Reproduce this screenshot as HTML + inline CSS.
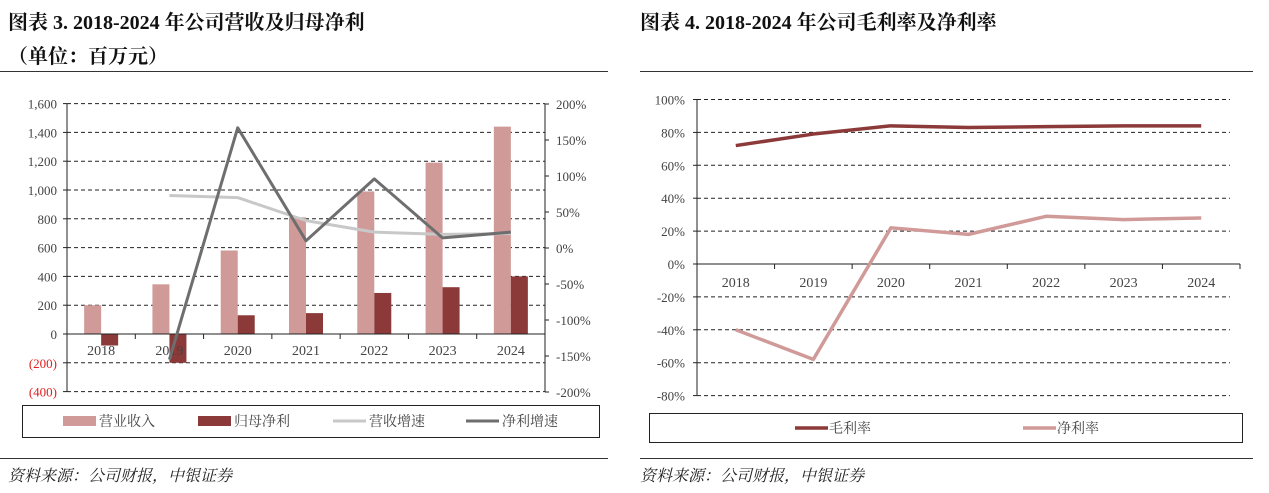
<!DOCTYPE html>
<html><head><meta charset="utf-8"><style>
body{margin:0;width:1269px;height:493px;background:#fff;overflow:hidden;font-family:"Liberation Serif","Noto Serif CJK SC",serif;position:relative}
.t{position:absolute;font-weight:bold;font-size:20px;color:#111}
.s{position:absolute;font-style:italic;font-size:16px;color:#222;font-family:"Liberation Serif","Noto Serif CJK SC",serif}
.hr{position:absolute;height:1px;background:#333}
svg{position:absolute;left:0;top:0}
</style></head><body>
<div class="t" style="left:8px;top:6px">图表 3. 2018-2024 年公司营收及归母净利</div>
<div class="t" style="left:8px;top:40px">（单位：百万元）</div>
<div class="t" style="left:640px;top:6px">图表 4. 2018-2024 年公司毛利率及净利率</div>
<div class="hr" style="left:0;top:71px;width:608px"></div>
<div class="hr" style="left:640px;top:71px;width:613px"></div>
<div class="hr" style="left:0;top:458px;width:608px"></div>
<div class="hr" style="left:640px;top:458px;width:613px"></div>
<div class="s" style="left:8px;top:463px">资料来源：公司财报，中银证券</div>
<div class="s" style="left:640px;top:463px">资料来源：公司财报，中银证券</div>
<svg id="c" width="1269" height="493"></svg>
<script>
const years=["2018","2019","2020","2021","2022","2023","2024"];
const revenue=[200,345,580,810,990,1190,1440];
const netProfit=[-80,-200,130,145,285,325,400];
const revGrowth=[null,73,70,38,22,19,20];
const profitGrowth=[null,-155,167,10,96,14,22];
const leftTicks=[1600,1400,1200,1000,800,600,400,200,0,-200,-400];
const rightTicks=[200,150,100,50,0,-50,-100,-150,-200];
const grossMargin=[72,79,84,83,83.5,84,84];
const netMargin=[-40,-58,22,18,29,27,28];
const marginTicks=[100,80,60,40,20,0,-20,-40,-60,-80];

const svg=document.getElementById('c');const NS='http://www.w3.org/2000/svg';
function el(t,a,txt){const e=document.createElementNS(NS,t);for(const k in a)e.setAttribute(k,a[k]);if(txt!=null)e.textContent=txt;svg.appendChild(e);return e;}
const F='"Liberation Serif","Noto Serif CJK SC",serif';
// left chart
const L0=67,L1=545,cw=(L1-L0)/7;
const yL=v=>334-v*28.8/200, yR=v=>248-v*36/50, xL=i=>L0+cw*(i+0.5);
leftTicks.forEach(v=>{const y=yL(v);
 if(v!==0){let g=el('line',{x1:L0,x2:L1,y1:y,y2:y,stroke:'#222','stroke-dasharray':'4,3'});}
 let t=el('text',{x:57,y:y+5,'text-anchor':'end','font-size':13,'font-family':F,fill:v<0?'#e02020':'#444'},v<0?'('+Math.abs(v)+')':v.toLocaleString('en-US'));
 
 el('line',{x1:L0-4,x2:L0,y1:y,y2:y,stroke:'#222'});});
rightTicks.forEach(v=>{const y=yR(v);el('line',{x1:L1,x2:L1+4,y1:y,y2:y,stroke:'#222'});
 let t=el('text',{x:556,y:y+5,'font-size':13,'font-family':F,fill:'#444'},v+'%');});
years.forEach((yr,i)=>{const x=xL(i);
 let b=el('rect',{x:x-17,y:Math.min(yL(revenue[i]),yL(0)),width:17,height:Math.abs(yL(revenue[i])-yL(0)),fill:'#d09a98'});
 
 let p=el('rect',{x:x,y:Math.min(yL(netProfit[i]),yL(0)),width:17,height:Math.abs(yL(netProfit[i])-yL(0)),fill:'#8b3a39'});
 
 let t=el('text',{x:x,y:355,'text-anchor':'middle','font-size':14,'font-family':F,fill:'#444'},yr);
 
 el('line',{x1:L0+cw*(i+1),x2:L0+cw*(i+1),y1:334,y2:339,stroke:'#222'});});
el('line',{x1:L0,x2:L0,y1:104,y2:392,stroke:'#222'});el('line',{x1:L1,x2:L1,y1:104,y2:392,stroke:'#222'});
el('line',{x1:L0,x2:L1,y1:334,y2:334,stroke:'#222'});
function poly(arr,xf,yf,col,w,name){const pts=arr.map((v,i)=>v==null?null:xf(i)+','+yf(v)).filter(Boolean).join(' ');
 let p=el('polyline',{points:pts,fill:'none',stroke:col,'stroke-width':w,'stroke-linejoin':'round'});}
poly(revGrowth,xL,yR,'#c8c8c8',3,'revenue-growth-line');
poly(profitGrowth,xL,yR,'#6e6e6e',3,'profit-growth-line');
// left legend
let lb=el('rect',{x:22.5,y:405.5,width:577,height:32,fill:'none',stroke:'#222'});
[['营业收入','rect','#d09a98',63],['归母净利','rect','#8b3a39',198],['营收增速','line','#c8c8c8',333],['净利增速','line','#6e6e6e',466]].forEach(([n,k,c,x])=>{
 if(k==='rect')el('rect',{x:x,y:416,width:33,height:10,fill:c});else el('line',{x1:x,x2:x+33,y1:421,y2:421,stroke:c,'stroke-width':3});
 let t=el('text',{x:x+36,y:426,'font-size':14,'font-family':F,fill:'#444'},n);});
// right chart
const R0=697,R1=1240,rw=(R1-R0)/7;
const yM=v=>264-v*32.9/20,xM=i=>R0+rw*(i+0.5);
marginTicks.forEach(v=>{const y=yM(v);
 if(v!==0){let g=el('line',{x1:R0,x2:1230,y1:y,y2:y,stroke:'#222','stroke-dasharray':'4,3'});}
 el('line',{x1:R0-4,x2:R0,y1:y,y2:y,stroke:'#222'});
 let t=el('text',{x:685,y:y+5,'text-anchor':'end','font-size':13,'font-family':F,fill:'#444'},v+'%');});
el('line',{x1:R0,x2:R0,y1:99,y2:395,stroke:'#222'});el('line',{x1:R0,x2:R1,y1:264,y2:264,stroke:'#222'});
years.forEach((yr,i)=>{el('line',{x1:R0+rw*(i+1),x2:R0+rw*(i+1),y1:264,y2:269,stroke:'#222'});
 let t=el('text',{x:xM(i),y:287,'text-anchor':'middle','font-size':14,'font-family':F,fill:'#444'},yr);});
poly(grossMargin,xM,yM,'#8b3a39',3.5,'gross-margin-line');
poly(netMargin,xM,yM,'#d09a98',3.5,'net-margin-line');
let rb=el('rect',{x:649.5,y:413.5,width:593,height:29,fill:'none',stroke:'#222'});
[['毛利率','#8b3a39',795],['净利率','#d09a98',1023]].forEach(([n,c,x])=>{el('line',{x1:x,x2:x+33,y1:428,y2:428,stroke:c,'stroke-width':3.5});
 let t=el('text',{x:x+34,y:433,'font-size':14,'font-family':F,fill:'#444'},n);});
</script>
</body></html>
